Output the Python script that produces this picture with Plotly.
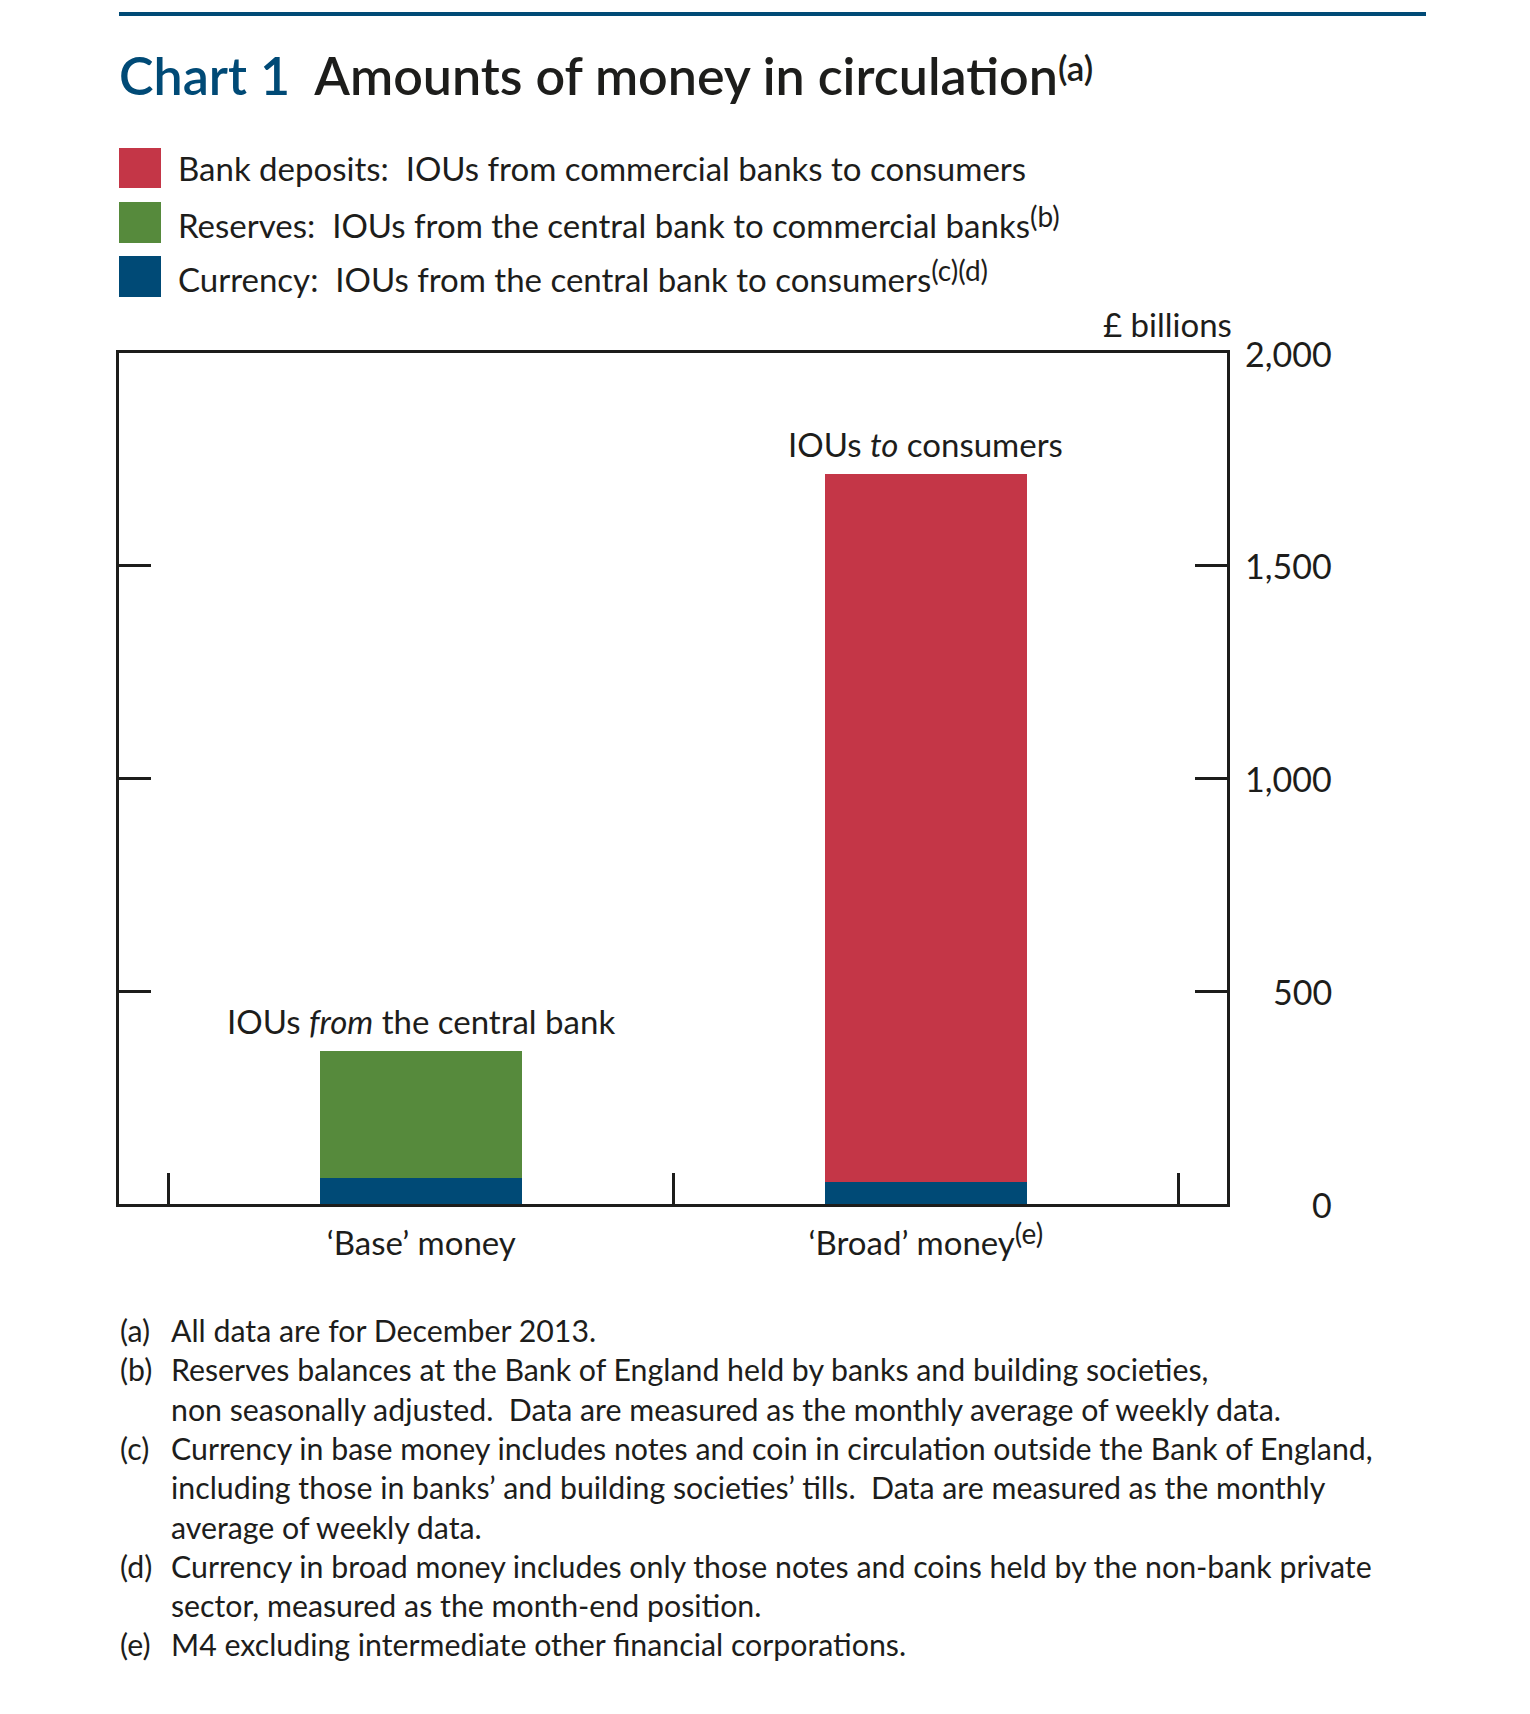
import plotly.graph_objects as go

# ---- data ----
categories = ["Base", "Broad"]
category_labels = ["‘Base’ money", "‘Broad’ money"]
category_notes = ["", "(e)"]
currency = [61, 52]
reserves = [299, 0]
deposits = [0, 1664]
totals = [c + r + d for c, r, d in zip(currency, reserves, deposits)]
series_names = [
    "Bank deposits:\u00a0 IOUs from commercial banks to consumers",
    "Reserves:\u00a0 IOUs from the central bank to commercial banks",
    "Currency:\u00a0 IOUs from the central bank to consumers",
]
series_notes = ["", "(b)", "(c)(d)"]
colors = ["#C43647", "#568A3C", "#004A76"]
ytick_vals = [0, 500, 1000, 1500, 2000]
ytick_text = ["0", "500", "1,000", "1,500", "2,000"]
bar_labels = ["IOUs <i>from</i> the central bank", "IOUs <i>to</i> consumers"]
footnotes = [
    ("(a)", "All data are for December 2013."),
    ("(b)", "Reserves balances at the Bank of England held by banks and building societies,"),
    ("", "non seasonally adjusted.\u00a0 Data are measured as the monthly average of weekly data."),
    ("(c)", "Currency in base money includes notes and coin in circulation outside the Bank of England,"),
    ("", "including those in banks’ and building societies’ tills.\u00a0 Data are measured as the monthly"),
    ("", "average of weekly data."),
    ("(d)", "Currency in broad money includes only those notes and coins held by the non-bank private"),
    ("", "sector, measured as the month-end position."),
    ("(e)", "M4 excluding intermediate other financial corporations."),
]

FONT = "Lato"
TXT = "#1d1d1b"
OFF = 8  # page body margin
W, H = 1530 - 2 * OFF, 1714 - 2 * OFF
L, R, T, B = 119, 1227, 353, 1204  # plot area in page pixels


def px(x):
    return (x - L) / (R - L)


def py(y):
    return (B - y) / (B - T)


def sup(t, size, shift):
    if not t:
        return ""
    return f"<span style='font-size:{size}px;baseline-shift:{shift}px'>{t}</span>"


fig = go.Figure()
fig.add_trace(go.Bar(x=categories, y=currency, marker_color=colors[2], width=0.4,
                     marker_line_width=0, name=series_names[2]))
fig.add_trace(go.Bar(x=categories, y=reserves, marker_color=colors[1], width=0.4,
                     marker_line_width=0, name=series_names[1]))
fig.add_trace(go.Bar(x=categories, y=deposits, marker_color=colors[0], width=0.4,
                     marker_line_width=0, name=series_names[0]))

ann = []
shapes = []

# top rule
shapes.append(dict(type="line", xref="paper", yref="paper", x0=px(119), x1=px(1426),
                   y0=py(14), y1=py(14), line=dict(color="#004A76", width=4)))

# title
ann.append(dict(xref="paper", yref="paper", x=px(117), y=py(75), xanchor="left", yanchor="middle",
                showarrow=False,
                text="<span style='color:#004A76'>Chart 1</span>\u00a0 Amounts of money in circulation"
                     + sup("(a)", 35, 14),
                font=dict(family=FONT, size=52, color=TXT, weight=600)))

# legend
legend_rows = [(148, 188), (202, 243), (256, 297)]
for (y0, y1), name, note, col in zip(legend_rows, series_names, series_notes, colors):
    shapes.append(dict(type="rect", xref="paper", yref="paper", x0=px(119), x1=px(161),
                       y0=py(y1), y1=py(y0), fillcolor=col, line=dict(width=0)))
    ann.append(dict(xref="paper", yref="paper", x=px(176), y=py((y0 + y1) / 2),
                    xanchor="left", yanchor="middle", showarrow=False, text=name + sup(note, 28, 11),
                    font=dict(family=FONT, size=33, color=TXT)))

# units label
ann.append(dict(xref="paper", yref="paper", x=px(1234), y=py(324), xanchor="right", yanchor="middle",
                showarrow=False, text="£ billions", font=dict(family=FONT, size=33, color=TXT)))

# y tick labels (right aligned)
for v, t in zip(ytick_vals, ytick_text):
    ann.append(dict(xref="paper", yref="y", x=px(1334), y=v, xanchor="right", yanchor="middle",
                    showarrow=False, text=t, font=dict(family=FONT, size=34, color=TXT)))

# bar labels
for c, tot, lab in zip(categories, totals, bar_labels):
    ann.append(dict(xref="x", yref="y", x=c, y=tot, xanchor="center", yanchor="bottom",
                    yshift=8, showarrow=False, text=lab, font=dict(family=FONT, size=33, color=TXT)))

# footnotes
y0 = 1330
for i, (lab, txt) in enumerate(footnotes):
    yy = y0 + i * 39.3
    if lab:
        ann.append(dict(xref="paper", yref="paper", x=px(118), y=py(yy), xanchor="left", yanchor="middle",
                        showarrow=False, text=lab, font=dict(family=FONT, size=30.3, color=TXT)))
    ann.append(dict(xref="paper", yref="paper", x=px(169), y=py(yy), xanchor="left", yanchor="middle",
                    showarrow=False, text=txt, font=dict(family=FONT, size=30.3, color=TXT)))

fig.update_layout(
    width=W, height=H,
    margin=dict(l=L - OFF, r=W - (R - OFF), t=T - OFF, b=H - (B - OFF), pad=0),
    paper_bgcolor="white", plot_bgcolor="white",
    barmode="stack", bargap=0,
    showlegend=False,
    font=dict(family=FONT, size=33, color=TXT),
    annotations=ann, shapes=shapes,
    xaxis=dict(type="category", range=[-0.599, 1.597], tickson="boundaries",
               tickmode="array", tickvals=categories,
               ticktext=[lab + sup(n, 28, 11) for lab, n in zip(category_labels, category_notes)],
               ticks="inside", ticklen=31, tickwidth=2.5, tickcolor=TXT,
               showline=True, linewidth=2.5, linecolor=TXT, mirror=True,
               showgrid=False, zeroline=False, ticklabelstandoff=9,
               tickfont=dict(family=FONT, size=33, color=TXT)),
    yaxis=dict(range=[0, 2000], tickvals=ytick_vals, showticklabels=False,
               ticks="inside", ticklen=32, tickwidth=2.5, tickcolor=TXT,
               showline=True, linewidth=2.5, linecolor=TXT, mirror="all",
               showgrid=False, zeroline=False),
)

fig.write_html("out.html")
